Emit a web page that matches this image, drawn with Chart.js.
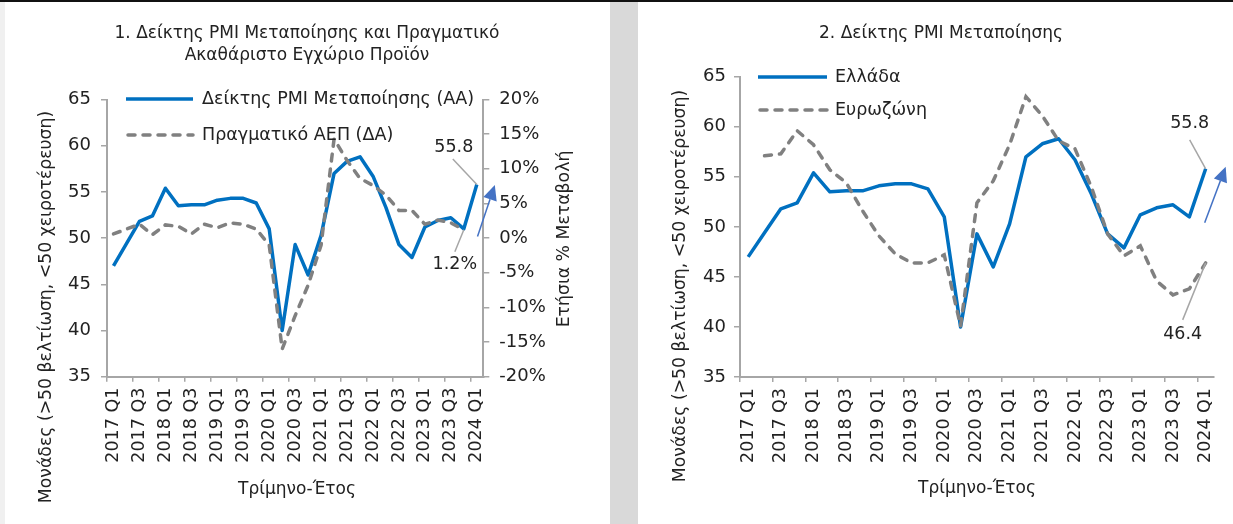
<!DOCTYPE html>
<html><head><meta charset="utf-8">
<script src="https://cdn.jsdelivr.net/npm/chart.js@4"></script>
<style>
html,body{margin:0;padding:0;}
body{width:1233px;height:524px;position:relative;background:#fff;overflow:hidden;font-family:"DejaVu Sans";}
#topline{position:absolute;left:0;top:0;width:1233px;height:2px;background:#111;}
#lm{position:absolute;left:0;top:2px;width:5px;height:522px;background:#f0f0f0;}
#mid{position:absolute;left:610px;top:2px;width:28px;height:522px;background:#d9d9d9;}
#c1{position:absolute;left:5px;top:3px;}
#c2{position:absolute;left:638px;top:3px;}
</style></head><body>
<div id="topline"></div><div id="lm"></div><div id="mid"></div>
<canvas id="c1" width="605" height="521"></canvas>
<canvas id="c2" width="595" height="521"></canvas>
<script>
// ---- Data ----
const quarters = ['2017 Q1','2017 Q2','2017 Q3','2017 Q4','2018 Q1','2018 Q2','2018 Q3','2018 Q4',
  '2019 Q1','2019 Q2','2019 Q3','2019 Q4','2020 Q1','2020 Q2','2020 Q3','2020 Q4',
  '2021 Q1','2021 Q2','2021 Q3','2021 Q4','2022 Q1','2022 Q2','2022 Q3','2022 Q4',
  '2023 Q1','2023 Q2','2023 Q3','2023 Q4','2024 Q1'];
const greecePMI = [47.0,49.4,51.8,52.4,55.4,53.5,53.6,53.6,54.1,54.3,54.3,53.8,51.0,40.0,49.3,46.0,
  50.3,57.0,58.3,58.8,56.7,53.3,49.3,47.9,51.2,51.9,52.2,51.0,55.8];
const eurozonePMI = [null,57.1,57.3,59.6,58.2,55.7,54.4,51.6,49.1,47.3,46.4,46.4,47.2,40.1,52.4,54.6,
  58.2,63.0,61.1,58.6,57.8,54.0,49.3,47.1,48.1,44.6,43.2,43.8,46.4];
const greeceGDP = [0.6,1.3,2.0,0.5,1.9,1.7,0.6,2.0,1.5,2.2,2.0,1.3,-1.0,-16.0,-11.2,-6.8,
  -1.0,14.3,11.2,8.6,7.6,6.2,4.0,4.0,2.0,2.6,2.2,1.2,null];
const pmiTicks = [35,40,45,50,55,60,65];
const gdpTicks = [-20,-15,-10,-5,0,5,10,15,20];

// ---- Texts ----
const title1a = '1. Δείκτης PMI Μεταποίησης και Πραγματικό';
const title1b = 'Ακαθάριστο Εγχώριο Προϊόν';
const title2 = '2. Δείκτης PMI Μεταποίησης';
const legPMI = 'Δείκτης PMI Μεταποίησης (ΑΑ)';
const legGDP = 'Πραγματικό ΑΕΠ (ΔΑ)';
const legGR = 'Ελλάδα';
const legEZ = 'Ευρωζώνη';
const yTitle = 'Μονάδες (>50 βελτίωση, <50 χειροτέρευση)';
const y2Title = 'Ετήσια % Μεταβολή';
const xTitle = 'Τρίμηνο-Έτος';

// ---- Styles ----
const BLUE = '#0070c0', GREY = '#808080', AXIS = '#a6a6a6', TEXT = '#222222', ARROW = '#4472c4';
const FONT = '"DejaVu Sans"';
Chart.defaults.font.family = 'DejaVu Sans';
Chart.defaults.color = TEXT;

function txt(ctx, s, x, y, size, rot, align) {
  ctx.save();
  ctx.font = size + 'px ' + FONT;
  ctx.fillStyle = TEXT;
  ctx.textAlign = align || 'center';
  ctx.textBaseline = 'middle';
  ctx.translate(x, y);
  if (rot) ctx.rotate(rot);
  ctx.fillText(s, 0, 0);
  ctx.restore();
}
function seg(ctx, x1, y1, x2, y2, color, w, dash) {
  ctx.save();
  ctx.strokeStyle = color; ctx.lineWidth = w;
  if (dash) { ctx.setLineDash(dash); ctx.lineCap = 'round'; }
  ctx.beginPath(); ctx.moveTo(x1, y1); ctx.lineTo(x2, y2); ctx.stroke();
  ctx.restore();
}
function arrow(ctx, x1, y1, x2, y2) {
  const a = Math.atan2(y2 - y1, x2 - x1), L = 15, W = 7;
  const bx = x2 - L * Math.cos(a), by = y2 - L * Math.sin(a);
  seg(ctx, x1, y1, bx, by, ARROW, 1.5);
  ctx.save(); ctx.fillStyle = ARROW; ctx.beginPath();
  ctx.moveTo(x2, y2);
  ctx.lineTo(bx + W * Math.sin(a), by - W * Math.cos(a));
  ctx.lineTo(bx - W * Math.sin(a), by + W * Math.cos(a));
  ctx.closePath(); ctx.fill(); ctx.restore();
}

function xScale(height) {
  return {
    type: 'category', offset: true,
    grid: { offset: true, drawOnChartArea: false, tickLength: 5, lineWidth: 1.5,
      color: c => (c.index % 2 === 0 ? AXIS : 'rgba(0,0,0,0)') },
    border: { color: AXIS, width: 2 },
    ticks: { autoSkip: false, minRotation: 90, maxRotation: 90, padding: 6,
      font: { size: 17.5 }, color: TEXT,
      callback: (v, i) => (i % 2 === 0 ? quarters[i] : '') },
    afterFit: s => { s.height = height; }
  };
}
function yScale(pos, min, max, ticksArr, width, pad, fmt) {
  return {
    position: pos, min: min, max: max,
    afterBuildTicks: s => { s.ticks = ticksArr.map(v => ({ value: v })); },
    grid: { drawOnChartArea: false, tickLength: 6, lineWidth: 1.5, color: AXIS },
    border: { color: AXIS, width: 2 },
    ticks: { padding: pad, font: { size: 18 }, color: TEXT, callback: fmt || (v => v) },
    afterFit: s => { s.width = width; }
  };
}

const deco1 = {
  id: 'deco1',
  afterDraw(chart) {
    const ctx = chart.ctx;
    txt(ctx, title1a, 302, 31, 17);
    txt(ctx, title1b, 302, 53, 17);
    seg(ctx, 121, 96, 188, 96, BLUE, 3.5);
    txt(ctx, legPMI, 197, 96, 17.5, 0, 'left');
    seg(ctx, 123, 132, 188, 132, GREY, 3.5, [7, 8]);
    txt(ctx, legGDP, 197, 132, 17.5, 0, 'left');
    txt(ctx, yTitle, 42, 304, 17.3, -Math.PI / 2);
    txt(ctx, y2Title, 560, 236, 17.3, -Math.PI / 2);
    txt(ctx, xTitle, 292, 487, 17);
    const P = chart.getDatasetMeta(0).data[28];
    const G = chart.getDatasetMeta(1).data[27];
    seg(ctx, P.x - 24, P.y - 25.5, P.x, P.y, AXIS, 1.5);
    txt(ctx, String(greecePMI[28]), P.x - 23, P.y - 37.5, 17.5);
    seg(ctx, G.x - 9, G.y + 22, G.x, G.y, AXIS, 1.5);
    txt(ctx, greeceGDP[27] + '%', G.x - 9, G.y + 35, 17.5);
    arrow(ctx, P.x + 0.7, P.y + 52, P.x + 18, P.y + 0.5);
  }
};
const deco2 = {
  id: 'deco2',
  afterDraw(chart) {
    const ctx = chart.ctx;
    txt(ctx, title2, 303, 31, 17);
    seg(ctx, 120, 74, 189, 74, BLUE, 3.5);
    txt(ctx, legGR, 197, 74, 17.5, 0, 'left');
    seg(ctx, 122, 107, 189, 107, GREY, 3.5, [7, 8]);
    txt(ctx, legEZ, 197, 107, 17.5, 0, 'left');
    txt(ctx, yTitle, 43, 283, 17.3, -Math.PI / 2);
    txt(ctx, xTitle, 339, 486, 17);
    const P = chart.getDatasetMeta(0).data[28];
    const E = chart.getDatasetMeta(1).data[28];
    seg(ctx, P.x - 16, P.y - 29, P.x, P.y, AXIS, 1.5);
    txt(ctx, String(greecePMI[28]), P.x - 16, P.y - 45, 17.5);
    seg(ctx, E.x - 23, E.y + 57, E.x, E.y, AXIS, 1.5);
    txt(ctx, String(eurozonePMI[28]), E.x - 23, E.y + 72, 17.5);
    arrow(ctx, P.x - 1, P.y + 54, P.x + 20, P.y - 2);
  }
};

const common = {
  responsive: false, animation: false, devicePixelRatio: 1,
  plugins: { legend: { display: false }, title: { display: false }, tooltip: { enabled: false } },
  elements: { point: { radius: 0 }, line: { tension: 0 } }
};

new Chart(document.getElementById('c1'), {
  type: 'line',
  data: { labels: quarters, datasets: [
    { label: legPMI, data: greecePMI, yAxisID: 'y', borderColor: BLUE, borderWidth: 3.5, order: 2, pointRadius: 0, borderJoinStyle: 'round' },
    { label: legGDP, data: greeceGDP, yAxisID: 'y2', borderColor: GREY, borderWidth: 3.5, borderDash: [7, 8], borderCapStyle: 'round', order: 1, pointRadius: 0 }
  ]},
  options: Object.assign({}, common, {
    layout: { padding: { top: 96.5, left: 0, right: 0, bottom: 0 } },
    scales: {
      x: xScale(147.3),
      y: yScale('left', 35, 65, pmiTicks, 102, 10),
      y2: yScale('right', -20, 20, gdpTicks, 126.7, 10, v => v + '%')
    }
  }),
  plugins: [deco1]
});

new Chart(document.getElementById('c2'), {
  type: 'line',
  data: { labels: quarters, datasets: [
    { label: legGR, data: greecePMI, yAxisID: 'y', borderColor: BLUE, borderWidth: 3.5, order: 2, pointRadius: 0, borderJoinStyle: 'round' },
    { label: legEZ, data: eurozonePMI, yAxisID: 'y', borderColor: GREY, borderWidth: 3.5, borderDash: [7, 8], borderCapStyle: 'round', order: 1, pointRadius: 0 }
  ]},
  options: Object.assign({}, common, {
    layout: { padding: { top: 73.7, left: 0, right: 19, bottom: 0 } },
    scales: {
      x: xScale(147),
      y: yScale('left', 35, 65, pmiTicks, 102, 8)
    }
  }),
  plugins: [deco2]
});
</script></body></html>
